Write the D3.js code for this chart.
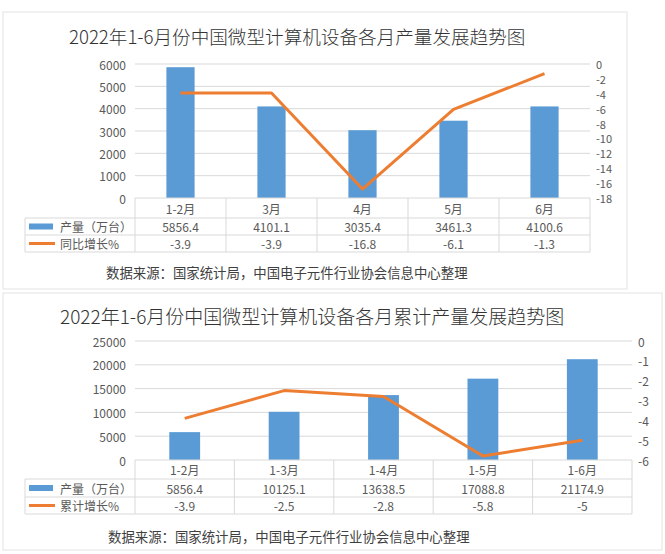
<!DOCTYPE html>
<html>
<head>
<meta charset="utf-8">
<script src="https://cdn.jsdelivr.net/npm/d3@7"></script>
<style>
  body { margin: 0; background: #fff; }
  svg { display: block; font-family: "Noto Sans CJK SC", "Noto Sans", sans-serif; }
</style>
</head>
<body>
<svg id="chart" width="665" height="554"></svg>
<script>
// data
const title1 = "2022年1-6月份中国微型计算机设备各月产量发展趋势图";
const months1 = ["1-2月", "3月", "4月", "5月", "6月"];
const output1 = [5856.4, 4101.1, 3035.4, 3461.3, 4100.6];
const growth1 = [-3.9, -3.9, -16.8, -6.1, -1.3];
const leftTicks1 = [0, 1000, 2000, 3000, 4000, 5000, 6000];
const rightTicks1 = [-18, -16, -14, -12, -10, -8, -6, -4, -2, 0];
const growthName1 = "同比增长%";

const title2 = "2022年1-6月份中国微型计算机设备各月累计产量发展趋势图";
const months2 = ["1-2月", "1-3月", "1-4月", "1-5月", "1-6月"];
const output2 = [5856.4, 10125.1, 13638.5, 17088.8, 21174.9];
const growth2 = [-3.9, -2.5, -2.8, -5.8, -5];
const leftTicks2 = [0, 5000, 10000, 15000, 20000, 25000];
const rightTicks2 = [-6, -5, -4, -3, -2, -1, 0];
const growthName2 = "累计增长%";

const outputName = "产量（万台）";
const sourceNote = "数据来源：国家统计局，中国电子元件行业协会信息中心整理";

const BLUE = "#5b9bd5", ORANGE = "#ed7d31", GRID = "#d9d9d9", TXT = "#595959";

const svg = d3.select("#chart");

function drawChart(cfg) {
  const g = svg.append("g");

  // outer frame
  g.append("rect")
    .attr("x", cfg.box[0]).attr("y", cfg.box[1])
    .attr("width", cfg.box[2] - cfg.box[0]).attr("height", cfg.box[3] - cfg.box[1])
    .attr("fill", "none").attr("stroke", "#e3e3e3");

  g.append("text")
    .attr("x", cfg.titleX).attr("y", cfg.titleY)
    .attr("dominant-baseline", "central")
    .attr("fill", "#333")
    .style("font-size", cfg.titleSize + "px")
    .style("font-weight", 300)
    .text(cfg.title);

  const x = d3.scaleBand().domain(cfg.cats).range([cfg.left, cfg.right]);
  const yL = d3.scaleLinear()
    .domain([0, d3.max(cfg.leftTicks)]).range([cfg.bottom, cfg.top]);
  const yR = d3.scaleLinear()
    .domain([d3.min(cfg.rightTicks), 0]).range([cfg.bottom, cfg.top]);

  // gridlines (primary axis)
  g.selectAll(".grid").data(cfg.leftTicks.slice(1)).enter().append("line")
    .attr("x1", cfg.left).attr("x2", cfg.right)
    .attr("y1", d => yL(d)).attr("y2", d => yL(d))
    .attr("stroke", GRID);

  // left axis labels
  g.selectAll(".yl").data(cfg.leftTicks).enter().append("text")
    .attr("x", cfg.left - 9).attr("y", d => yL(d))
    .attr("text-anchor", "end").attr("dominant-baseline", "central")
    .attr("fill", TXT).style("font-size", "12px")
    .text(d => d);

  // right axis labels
  g.selectAll(".yr").data(cfg.rightTicks).enter().append("text")
    .attr("x", cfg.right + 6).attr("y", d => yR(d))
    .attr("dominant-baseline", "central")
    .attr("fill", TXT).style("font-size", cfg.rightSize + "px")
    .text(d => d);

  // bars
  const bw = x.bandwidth() * 0.31;
  g.selectAll(".bar").data(cfg.output).enter().append("rect")
    .attr("x", (d, i) => x(cfg.cats[i]) + (x.bandwidth() - bw) / 2)
    .attr("width", bw)
    .attr("y", d => yL(d))
    .attr("height", d => cfg.bottom - yL(d))
    .attr("fill", BLUE);

  // line
  const line = d3.line()
    .x((d, i) => x(cfg.cats[i]) + x.bandwidth() / 2)
    .y(d => yR(d));
  g.append("path").datum(cfg.growth)
    .attr("d", line)
    .attr("fill", "none").attr("stroke", ORANGE)
    .attr("stroke-width", 3).attr("stroke-linejoin", "round");

  // data table
  const r0 = cfg.bottom, r1 = cfg.rows[0], r2 = cfg.rows[1], r3 = cfg.rows[2];
  const tl = cfg.tableLeft;
  const hl = [[cfg.left, r0], [tl, r1], [tl, r2], [tl, r3]];
  g.selectAll(".hl").data(hl).enter().append("line")
    .attr("x1", d => d[0]).attr("x2", cfg.right)
    .attr("y1", d => d[1]).attr("y2", d => d[1])
    .attr("stroke", GRID);
  const vx = cfg.cats.map(c => x(c)).concat([cfg.right]);
  g.selectAll(".vl").data(vx).enter().append("line")
    .attr("x1", d => d).attr("x2", d => d)
    .attr("y1", r0).attr("y2", r3)
    .attr("stroke", GRID);
  g.append("line").attr("x1", tl).attr("x2", tl).attr("y1", r1).attr("y2", r3)
    .attr("stroke", GRID);

  const cx = c => x(c) + x.bandwidth() / 2;
  g.selectAll(".cat").data(cfg.cats).enter().append("text")
    .attr("x", d => cx(d)).attr("y", (r0 + r1) / 2)
    .attr("text-anchor", "middle").attr("dominant-baseline", "central")
    .attr("fill", TXT).style("font-size", "12px")
    .text(d => d);
  g.selectAll(".v1").data(cfg.output).enter().append("text")
    .attr("x", (d, i) => cx(cfg.cats[i])).attr("y", (r1 + r2) / 2)
    .attr("text-anchor", "middle").attr("dominant-baseline", "central")
    .attr("fill", TXT).style("font-size", "12px")
    .text(d => d);
  g.selectAll(".v2").data(cfg.growth).enter().append("text")
    .attr("x", (d, i) => cx(cfg.cats[i])).attr("y", (r2 + r3) / 2)
    .attr("text-anchor", "middle").attr("dominant-baseline", "central")
    .attr("fill", TXT).style("font-size", "12px")
    .text(d => d);

  // legend keys
  g.append("rect")
    .attr("x", tl + 4).attr("y", (r1 + r2) / 2 - 3)
    .attr("width", 24).attr("height", 6).attr("fill", BLUE);
  g.append("line")
    .attr("x1", tl + 4).attr("x2", tl + 30)
    .attr("y1", (r2 + r3) / 2).attr("y2", (r2 + r3) / 2)
    .attr("stroke", ORANGE).attr("stroke-width", 3);
  g.append("text")
    .attr("x", tl + 35).attr("y", (r1 + r2) / 2)
    .attr("dominant-baseline", "central")
    .attr("fill", TXT).style("font-size", "12px")
    .text(outputName);
  g.append("text")
    .attr("x", tl + 35).attr("y", (r2 + r3) / 2)
    .attr("dominant-baseline", "central")
    .attr("fill", TXT).style("font-size", "12px")
    .text(cfg.growthName);

  g.append("text")
    .attr("x", cfg.noteX).attr("y", cfg.noteY)
    .attr("dominant-baseline", "central")
    .attr("fill", "#404040").style("font-size", "13.4px")
    .text(sourceNote);
}

drawChart({
  box: [3, 12, 627, 289],
  title: title1, titleX: 69, titleY: 35, titleSize: 18.6,
  cats: months1, output: output1, growth: growth1, growthName: growthName1,
  leftTicks: leftTicks1, rightTicks: rightTicks1, rightSize: 11,
  left: 135, right: 590, top: 64, bottom: 198,
  tableLeft: 25, rows: [218, 235, 252],
  noteX: 106, noteY: 272
});

drawChart({
  box: [3, 293, 662, 550],
  title: title2, titleX: 60, titleY: 315, titleSize: 19,
  cats: months2, output: output2, growth: growth2, growthName: growthName2,
  leftTicks: leftTicks2, rightTicks: rightTicks2, rightSize: 12,
  left: 135, right: 632, top: 341, bottom: 460,
  tableLeft: 25, rows: [479, 497, 514],
  noteX: 108, noteY: 536
});
</script>
</body>
</html>
